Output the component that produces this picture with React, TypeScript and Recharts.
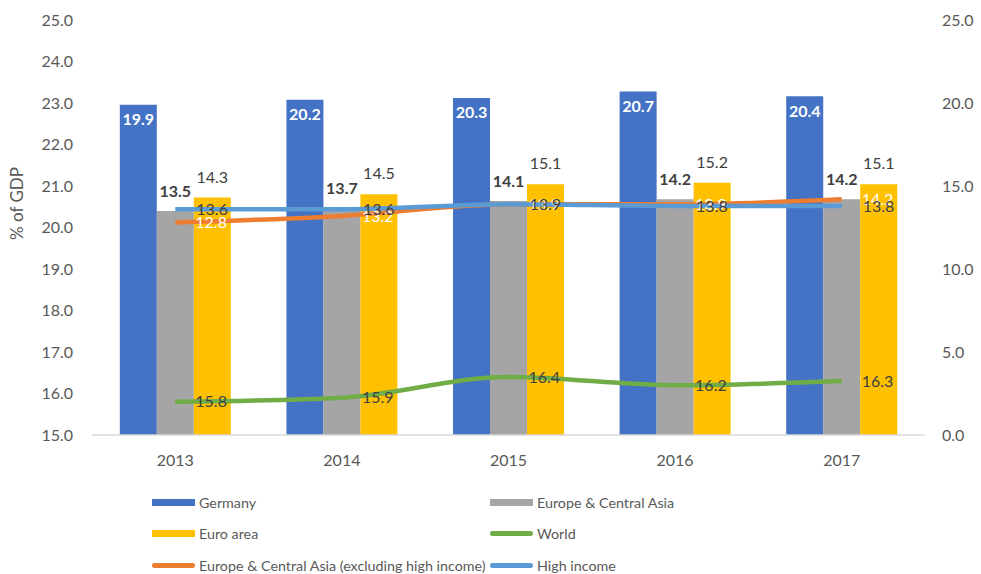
import {
  ComposedChart,
  Bar,
  Line,
  XAxis,
  YAxis,
  Legend,
  LabelList,
} from "recharts";

const years = ["2013", "2014", "2015", "2016", "2017"];
const germany = [19.9, 20.2, 20.3, 20.7, 20.4];
const europeCentralAsia = [13.5, 13.7, 14.1, 14.2, 14.2];
const euroArea = [14.3, 14.5, 15.1, 15.2, 15.1];
const world = [15.8, 15.9, 16.4, 16.2, 16.3];
const ecaExclHighIncome = [12.8, 13.2, 13.9, 13.9, 14.2];
const highIncome = [13.6, 13.6, 13.9, 13.8, 13.8];

const leftTicks = [15, 16, 17, 18, 19, 20, 21, 22, 23, 24, 25];
const rightTicks = [0, 5, 10, 15, 20, 25];

const data = years.map((year, i) => ({
  year,
  germany: germany[i],
  eca: europeCentralAsia[i],
  euro: euroArea[i],
  world: world[i],
  ecaExcl: ecaExclHighIncome[i],
  high: highIncome[i],
}));

const FONT = "Lato, 'Open Sans', sans-serif";
const TICK = { fill: "#595959", fontSize: 16, fontFamily: FONT };
const LABEL_DARK = "#404040";

const legendItems = [
  { name: "Germany", color: "#4472C4", kind: "bar", left: 152, top: 0 },
  { name: "Europe & Central Asia", color: "#A5A5A5", kind: "bar", left: 490, top: 0 },
  { name: "Euro area", color: "#FFC000", kind: "bar", left: 152, top: 31 },
  { name: "World", color: "#70AD47", kind: "line", left: 490, top: 31 },
  {
    name: "Europe & Central Asia (excluding high income)",
    color: "#ED7D31",
    kind: "line",
    left: 152,
    top: 63,
  },
  { name: "High income", color: "#5B9BD5", kind: "line", left: 490, top: 63 },
];

function ChartLegend() {
  return (
    <div style={{ position: "relative", width: 981, height: 80, fontFamily: FONT }}>
      {legendItems.map((item) => (
        <div
          key={item.name}
          style={{
            position: "absolute",
            left: item.left,
            top: item.top,
            display: "flex",
            alignItems: "center",
            height: 20,
            fontSize: 14.3,
            color: "#595959",
            whiteSpace: "nowrap",
          }}
        >
          <span
            style={{
              display: "inline-block",
              width: 43,
              height: item.kind === "bar" ? 7 : 5,
              borderRadius: item.kind === "bar" ? 0 : 3,
              background: item.color,
              marginRight: 4,
            }}
          />
          {item.name}
        </div>
      ))}
    </div>
  );
}

const fmt = (v: number) => Number(v).toFixed(1);

export default function App() {
  return (
    <div style={{ position: "absolute", left: 0, top: 0, background: "#fff" }}>
      <ComposedChart
        width={981}
        height={574}
        data={data}
        margin={{ top: 20, right: 0, left: 0, bottom: 104 }}
        barCategoryGap="16.7%"
        barGap={0}
        style={{ fontFamily: FONT }}
      >
        <XAxis
          dataKey="year"
          height={35}
          tickLine={false}
          tickSize={0}
          tickMargin={20}
          axisLine={{ stroke: "#D9D9D9", strokeWidth: 1.5 }}
          tick={TICK}
        />
        <YAxis
          yAxisId="left"
          orientation="left"
          width={92}
          domain={[15, 25]}
          ticks={leftTicks}
          tickFormatter={fmt}
          axisLine={false}
          tickLine={false}
          tickSize={0}
          tickMargin={19}
          tick={TICK}
          label={{
            value: "% of GDP",
            angle: -90,
            position: "insideLeft",
            offset: 17,
            dy: -24,
            style: { textAnchor: "middle", fill: "#595959", fontSize: 17, fontFamily: FONT },
          }}
        />
        <YAxis
          yAxisId="right"
          orientation="right"
          width={56}
          domain={[0, 25]}
          ticks={rightTicks}
          tickFormatter={fmt}
          axisLine={false}
          tickLine={false}
          tickSize={0}
          tickMargin={17}
          tick={TICK}
        />
        <Legend
          layout="horizontal"
          verticalAlign="middle"
          align="center"
          wrapperStyle={{ top: 492, left: 0, width: 981 }}
          content={() => <ChartLegend />}
        />
        <Bar yAxisId="right" dataKey="germany" name="Germany" fill="#4472C4" isAnimationActive={false}>
          <LabelList
            dataKey="germany"
            position="insideTop"
            offset={9}
            formatter={fmt}
            fill="#FFFFFF"
            fontWeight="bold"
            fontSize={16}
            fontFamily={FONT}
          />
        </Bar>
        <Bar yAxisId="right" dataKey="eca" name="Europe & Central Asia" fill="#A5A5A5" isAnimationActive={false}>
          <LabelList
            dataKey="eca"
            position="top"
            offset={14}
            formatter={fmt}
            fill={LABEL_DARK}
            fontWeight="bold"
            fontSize={16}
            fontFamily={FONT}
          />
        </Bar>
        <Bar yAxisId="right" dataKey="euro" name="Euro area" fill="#FFC000" isAnimationActive={false}>
          <LabelList
            dataKey="euro"
            position="top"
            offset={15}
            formatter={fmt}
            fill={LABEL_DARK}
            fontSize={16}
            fontFamily={FONT}
          />
        </Bar>
        <Line
          yAxisId="left"
          type="monotone"
          dataKey="world"
          name="World"
          stroke="#70AD47"
          strokeWidth={4.5}
          dot={false}
          isAnimationActive={false}
        >
          <LabelList
            dataKey="world"
            position="right"
            offset={20}
            formatter={fmt}
            fill={LABEL_DARK}
            fontSize={16}
            fontFamily={FONT}
          />
        </Line>
        <Line
          yAxisId="right"
          type="monotone"
          dataKey="ecaExcl"
          name="Europe & Central Asia (excluding high income)"
          stroke="#ED7D31"
          strokeWidth={4.5}
          dot={false}
          isAnimationActive={false}
        >
          <LabelList
            dataKey="ecaExcl"
            position="right"
            offset={20}
            formatter={fmt}
            fill="#FFFFFF"
            fontSize={16}
            fontFamily={FONT}
          />
        </Line>
        <Line
          yAxisId="right"
          type="monotone"
          dataKey="high"
          name="High income"
          stroke="#5B9BD5"
          strokeWidth={4.5}
          dot={false}
          isAnimationActive={false}
        >
          <LabelList
            dataKey="high"
            position="right"
            offset={21}
            formatter={fmt}
            fill={LABEL_DARK}
            fontSize={16}
            fontFamily={FONT}
          />
        </Line>
      </ComposedChart>
    </div>
  );
}
